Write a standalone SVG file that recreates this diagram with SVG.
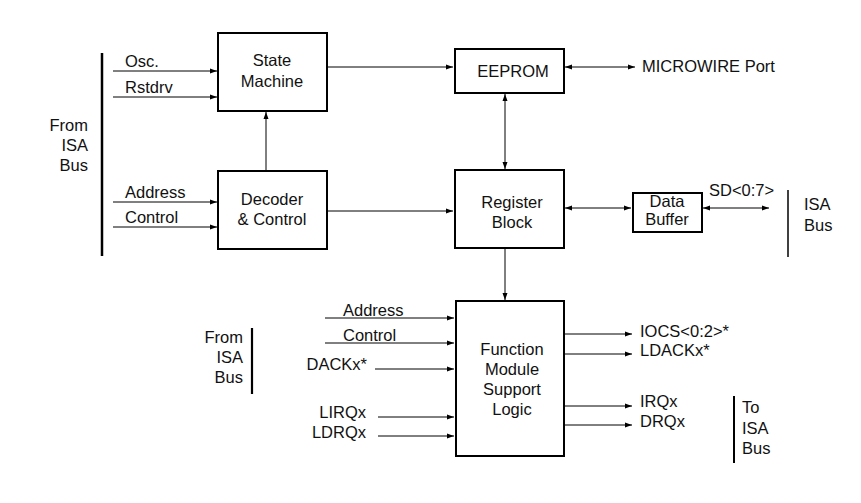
<svg xmlns="http://www.w3.org/2000/svg" width="861" height="503" viewBox="0 0 861 503">
<style>
text{font-family:"Liberation Sans",Arial,sans-serif;font-size:16.5px;fill:#111}
.c{text-anchor:middle}
.r{text-anchor:end}
.box{fill:#fff;stroke:#000;stroke-width:2}
.ln{stroke:#000;stroke-width:1;fill:none}
.a{marker-end:url(#ah)}
.b{marker-start:url(#ah);marker-end:url(#ah)}
.bar{stroke:#000;fill:none}
</style>
<defs>
<marker id="ah" markerUnits="userSpaceOnUse" markerWidth="8" markerHeight="6" refX="7" refY="3" orient="auto-start-reverse">
<path d="M0,0.5 L7,3 L0,5.5 z" fill="#000"/>
</marker>
</defs>
<rect width="861" height="503" fill="#fff"/>

<g id="connectors">
<line class="ln a" x1="113" y1="71" x2="217" y2="71"/>
<line class="ln a" x1="113" y1="97" x2="217" y2="97"/>
<line class="ln a" x1="113" y1="202" x2="217" y2="202"/>
<line class="ln a" x1="113" y1="227" x2="217" y2="227"/>
<line class="ln a" x1="266" y1="171" x2="266" y2="112"/>
<line class="ln a" x1="327" y1="67" x2="453" y2="67"/>
<line class="ln b" x1="565" y1="67" x2="635" y2="67"/>
<line class="ln b" x1="505" y1="94" x2="505" y2="169"/>
<line class="ln a" x1="327" y1="211" x2="453" y2="211"/>
<line class="ln b" x1="565" y1="208" x2="631" y2="208"/>
<line class="ln b" x1="703" y1="208" x2="769" y2="208"/>
<line class="ln a" x1="505" y1="248" x2="505" y2="300"/>
<line class="ln a" x1="325" y1="318" x2="454" y2="318"/>
<line class="ln a" x1="325" y1="343" x2="454" y2="343"/>
<line class="ln a" x1="375" y1="369" x2="454" y2="369"/>
<line class="ln a" x1="378" y1="417" x2="454" y2="417"/>
<line class="ln a" x1="378" y1="436" x2="454" y2="436"/>
<line class="ln a" x1="564" y1="334" x2="632" y2="334"/>
<line class="ln a" x1="564" y1="354" x2="632" y2="354"/>
<line class="ln a" x1="564" y1="406" x2="632" y2="406"/>
<line class="ln a" x1="564" y1="425" x2="632" y2="425"/>
</g>

<g id="bus-left">
<line class="bar" x1="102" y1="53" x2="102" y2="256" stroke-width="2.5"/>
<text class="r" x="88" y="131">From</text>
<text class="r" x="88" y="151">ISA</text>
<text class="r" x="88" y="171">Bus</text>
<text x="125" y="67">Osc.</text>
<text x="125" y="93">Rstdrv</text>
<text x="125" y="198">Address</text>
<text x="125" y="223">Control</text>
</g>

<g id="state-machine">
<rect class="box" x="218" y="33" width="109" height="78"/>
<text class="c" x="272" y="66">State</text>
<text class="c" x="272" y="87">Machine</text>
</g>

<g id="decoder">
<rect class="box" x="218" y="171" width="109" height="78"/>
<text class="c" x="272" y="205">Decoder</text>
<text class="c" x="272" y="225">&amp; Control</text>
</g>

<g id="eeprom">
<rect class="box" x="455" y="49" width="109" height="44"/>
<text class="c" x="513" y="77">EEPROM</text>
</g>
<g id="microwire">
<text x="642" y="72">MICROWIRE Port</text>
</g>

<g id="register">
<rect class="box" x="455" y="170" width="109" height="78"/>
<text class="c" x="512" y="208">Register</text>
<text class="c" x="512" y="228">Block</text>
</g>

<g id="data-buffer">
<rect class="box" x="633" y="193" width="69" height="39"/>
<text class="c" x="667" y="207">Data</text>
<text class="c" x="667" y="225">Buffer</text>
</g>

<g id="bus-right">
<text x="709" y="196">SD&lt;0:7&gt;</text>
<line class="bar" x1="788" y1="190" x2="788" y2="257" stroke-width="1.5"/>
<text x="804" y="210">ISA</text>
<text x="804" y="231">Bus</text>
</g>

<g id="function-module">
<rect class="box" x="456" y="301" width="108" height="155"/>
<text class="c" x="512" y="355">Function</text>
<text class="c" x="512" y="375">Module</text>
<text class="c" x="512" y="395">Support</text>
<text class="c" x="512" y="415">Logic</text>
</g>

<g id="bus-bottom-left">
<line class="bar" x1="252" y1="328" x2="252" y2="394" stroke-width="2.2"/>
<text class="r" x="243" y="343">From</text>
<text class="r" x="243" y="363">ISA</text>
<text class="r" x="243" y="383">Bus</text>
<text x="343" y="316">Address</text>
<text x="343" y="341">Control</text>
<text class="r" x="367" y="370">DACKx*</text>
<text class="r" x="366" y="418">LIRQx</text>
<text class="r" x="366" y="438">LDRQx</text>
</g>

<g id="bus-bottom-right">
<text x="640" y="337">IOCS&lt;0:2&gt;*</text>
<text x="640" y="356">LDACKx*</text>
<text x="640" y="407">IRQx</text>
<text x="640" y="427">DRQx</text>
<line class="bar" x1="734" y1="396" x2="734" y2="463" stroke-width="2"/>
<text x="742" y="413">To</text>
<text x="742" y="434">ISA</text>
<text x="742" y="454">Bus</text>
</g>
</svg>
